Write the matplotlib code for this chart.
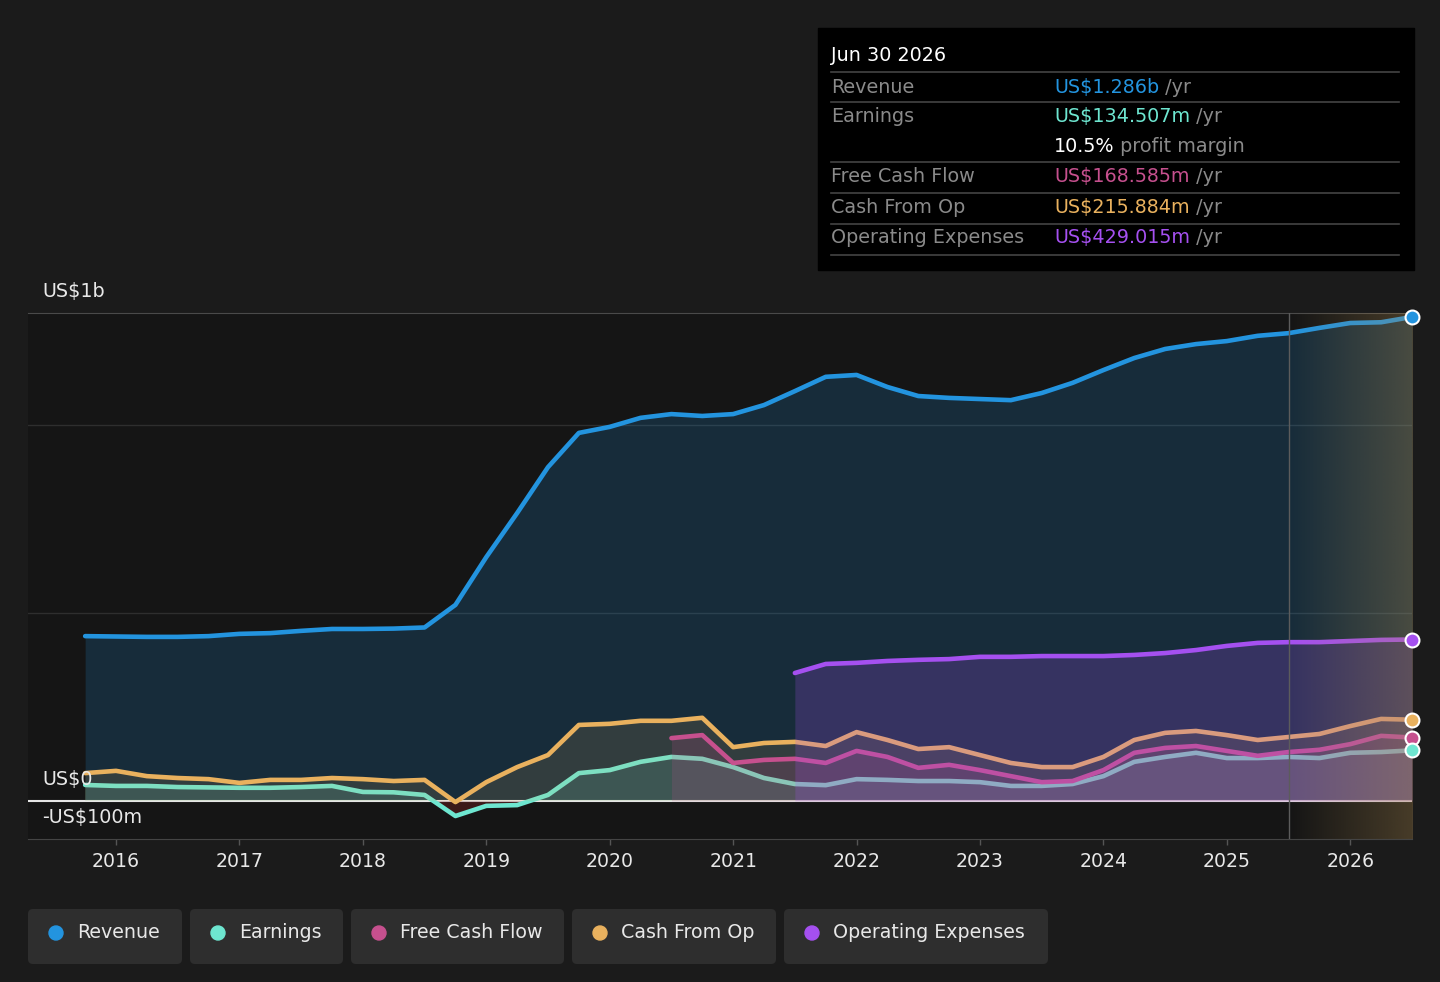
import numpy as np
import matplotlib.pyplot as plt
from matplotlib.patches import FancyBboxPatch, Rectangle, Circle

W, H = 1440, 982

# quarter ends, Sep 2015 .. Jun 2026 (decimal years)
quarters = np.arange(2015.75, 2026.51, 0.25)
years = list(range(2016, 2027))
forecast_start = 2025.5

# values in US$ millions
revenue = [438, 437, 436, 436, 438, 444, 446, 452, 457, 457, 458, 461,
           521, 648, 765, 887, 978, 994, 1018, 1028, 1023, 1028, 1052, 1089,
           1127, 1132, 1100, 1076, 1071, 1068, 1065, 1084, 1111, 1145, 1177, 1201,
           1214, 1222, 1236, 1243, 1257, 1270, 1272, 1286]

earnings = [42.5, 40, 40, 37, 36, 35, 35, 37, 40, 24, 23, 16,
            -40, -13, -11, 16, 74, 82, 104, 117, 112, 90, 61, 45,
            42, 58, 56, 53, 53, 50, 40, 40, 45, 66, 104, 117,
            128, 114, 114, 117, 114, 128, 130, 134.5]

cash_from_op = [74, 80, 66, 61, 58, 48, 56, 56, 61, 58, 53, 56,
                -3, 50, 90, 122, 202, 205, 213, 213, 221, 143, 154, 157,
                146, 183, 162, 138, 143, 122, 101, 90, 90, 117, 162, 181,
                186, 175, 162, 170, 178, 199, 218, 215.9]

nan = np.nan
free_cash_flow = [nan] * 12 + [nan] * 7 + [167, 175, 101, 109, 112] + \
                 [101, 133, 117, 88, 96, 82, 66, 50, 53, 82, 128, 141] + \
                 [146, 133, 120, 130, 136, 151, 173, 168.6]

operating_expenses = [nan] * 12 + [nan] * 11 + [340] + \
                     [364, 367, 372, 375, 377, 383, 383, 385, 385, 385, 388, 393] + \
                     [401, 412, 420, 422, 422, 425, 428, 429]

series_names = ["Revenue", "Earnings", "Free Cash Flow", "Cash From Op", "Operating Expenses"]
series_colors = ["#2394df", "#6ee6d0", "#c6508e", "#e9b15e", "#a550f0"]

tooltip_date = "Jun 30 2026"
tooltip_values = ["US$1.286b", "US$134.507m", "US$168.585m", "US$215.884m", "US$429.015m"]
profit_margin = "10.5%"

y_labels = ["US$1b", "US$0", "-US$100m"]

# ---------------------------------------------------------------
fig = plt.figure(figsize=(W / 100, H / 100), dpi=100, facecolor="#1b1b1b")
ax = fig.add_axes([28 / W, 1 - 838.6 / H, (1412 - 28) / W, (838.6 - 313) / H])
ax.set_facecolor("#151515")

for s in ["left", "right"]:
    ax.spines[s].set_visible(False)
ax.spines["top"].set_color("#4a4a4a")
ax.spines["bottom"].set_color("#444444")

for g in [500, 1000]:
    ax.axhline(g, color="#2e2e2e", lw=1, zorder=1)

ax.set_yticks([])
ax.set_xticks(years)
ax.set_xticklabels([str(y) for y in years])
ax.tick_params(axis="x", colors="#555555", length=4.5, width=1, pad=5,
               labelcolor="#e8e8e8", labelsize=13.6)

rev = np.array(revenue, float)
earn = np.array(earnings, float)
cfo = np.array(cash_from_op, float)
fcf = np.array(free_cash_flow, float)
opex = np.array(operating_expenses, float)

c_rev, c_earn, c_fcf, c_cfo, c_opex = series_colors
LW = 3.3

# revenue
ax.fill_between(quarters, 0, rev, color=c_rev, alpha=0.19, lw=0, zorder=2)
ax.plot(quarters, rev, color=c_rev, lw=LW, zorder=3, solid_capstyle="round")

ax.axhline(0, color="#e6e6e6", lw=1.5, zorder=2.5)

# earnings
ax.fill_between(quarters, 0, earn, where=earn >= 0, interpolate=True,
                color=c_earn, alpha=0.16, lw=0, zorder=4)
ax.fill_between(quarters, 0, earn, where=earn < 0, interpolate=True,
                color="#6a1f1f", alpha=0.45, lw=0, zorder=4)
ax.plot(quarters, earn, color=c_earn, lw=LW, zorder=5, solid_capstyle="round")

# cash from op
ax.fill_between(quarters, 0, cfo, where=cfo >= 0, interpolate=True,
                color=c_cfo, alpha=0.13, lw=0, zorder=6)
ax.plot(quarters, cfo, color=c_cfo, lw=LW, zorder=7, solid_capstyle="round")

# free cash flow
ax.fill_between(quarters, 0, fcf, color=c_fcf, alpha=0.18, lw=0, zorder=8)
ax.plot(quarters, fcf, color=c_fcf, lw=LW, zorder=9, solid_capstyle="round")

# operating expenses
ax.fill_between(quarters, 0, opex, color=c_opex, alpha=0.22, lw=0, zorder=10)
ax.plot(quarters, opex, color=c_opex, lw=LW, zorder=11, solid_capstyle="round")

# forecast shading
grad = np.zeros((2, 256, 4))
grad[..., 0] = 175 / 255
grad[..., 1] = 140 / 255
grad[..., 2] = 80 / 255
grad[..., 3] = np.linspace(0.0, 0.33, 256)
ax.imshow(grad, extent=[forecast_start, 2026.5, -100, 1296.6], aspect="auto",
          origin="lower", zorder=15, interpolation="bilinear")
ax.axvline(forecast_start, color="#5c5c5c", lw=1, zorder=16)
ax.set_xlim(2015.287, 2026.5)
ax.set_ylim(-100, 1296.6)

# end markers
for vals, c in [(rev, c_rev), (opex, c_opex), (cfo, c_cfo), (fcf, c_fcf), (earn, c_earn)]:
    ax.plot(quarters[-1], vals[-1], "o", ms=10, mfc=c, mec="white", mew=1.5,
            clip_on=False, zorder=30)

# ---------------------------------------------------------------
# overlay in pixel coordinates
ov = fig.add_axes([0, 0, 1, 1])
ov.set_xlim(0, W)
ov.set_ylim(H, 0)
ov.axis("off")
ov.patch.set_alpha(0)

for txt, yy in zip(y_labels, [291, 780, 817]):
    ov.text(42, yy, txt, color="#e8e8e8", fontsize=13.8, ha="left", va="center")

# tooltip
ov.add_patch(Rectangle((818, 28), 596, 242, color="#000000", zorder=1))
ov.text(831, 55, tooltip_date, color="#ffffff", fontsize=13.8, va="center", zorder=2)
for yy in [72, 102, 162, 193, 224, 255]:
    ov.plot([831, 1399], [yy, yy], color="#444444", lw=1.2, zorder=2)

grey = "#8a8a8a"
rows = [("Revenue", 87, 0), ("Earnings", 116, 1), ("Free Cash Flow", 176, 2),
        ("Cash From Op", 207, 3), ("Operating Expenses", 237, 4)]
for label, yy, i in rows:
    ov.text(831, yy, label, color=grey, fontsize=13.8, va="center", zorder=2)
    t = ov.text(1054, yy, tooltip_values[i], color=series_colors[i], fontsize=13.8,
                va="center", zorder=2)
    ov.annotate(" /yr", xy=(1, 0), xycoords=t, color=grey, fontsize=13.8,
                ha="left", va="bottom", zorder=2)

t = ov.text(1054, 146, profit_margin, color="#ffffff", fontsize=13.8, va="center", zorder=2)
ov.annotate(" profit margin", xy=(1, 0), xycoords=t, color=grey, fontsize=13.8,
            ha="left", va="bottom", zorder=2)

# legend chips
boxes = [(28, 182), (190, 343), (351, 564), (572, 776), (784, 1048)]
for (x0, x1), name, c in zip(boxes, series_names, series_colors):
    ov.add_patch(FancyBboxPatch((x0, 909), x1 - x0, 55,
                                boxstyle="round,pad=0,rounding_size=5",
                                fc="#2e2e2e", ec="none", zorder=1))
    ov.add_patch(Circle((x0 + 28, 933), 7, color=c, zorder=2))
    ov.text(x0 + 49, 933, name, color="#e8e8e8", fontsize=13.7, va="center", zorder=2)

fig.savefig("out.png", dpi=100, facecolor=fig.get_facecolor())
